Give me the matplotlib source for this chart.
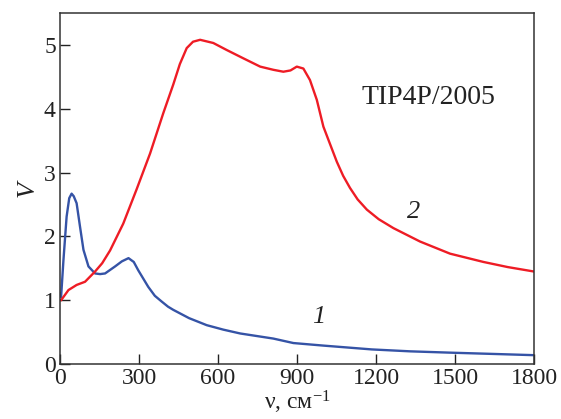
import matplotlib
matplotlib.use("Agg")
import matplotlib.pyplot as plt

# curve 1 (blue)
nu_1 = [0, 4, 13, 25, 35, 44, 52, 63, 76, 89, 108, 133, 152, 171, 209, 235, 260,
        280, 297, 335, 360, 386, 410, 430, 490, 557, 620, 684, 810, 886, 1000,
        1184, 1330, 1477, 1640, 1800]
v_1 = [1.1, 1.05, 1.63, 2.31, 2.6, 2.67, 2.63, 2.52, 2.15, 1.79, 1.53, 1.42, 1.41,
       1.42, 1.53, 1.61, 1.66, 1.6, 1.47, 1.21, 1.07, 0.98, 0.9, 0.85, 0.72, 0.61,
       0.54, 0.48, 0.40, 0.33, 0.29, 0.23, 0.2, 0.18, 0.16, 0.14]

# curve 2 (red)
nu_2 = [0, 4, 32, 63, 95, 133, 160, 190, 240, 291, 342, 392, 430, 455, 481,
        505, 532, 582, 633, 696, 760, 810, 848, 875, 899, 924, 949, 975, 1000,
        1025, 1051, 1075, 1101, 1130, 1165, 1210, 1266, 1367, 1481, 1608, 1700,
        1800]
v_2 = [1.0, 1.0, 1.16, 1.24, 1.29, 1.45, 1.58, 1.78, 2.2, 2.74, 3.3, 3.93, 4.38,
       4.7, 4.95, 5.05, 5.08, 5.03, 4.92, 4.79, 4.66, 4.61, 4.58, 4.6, 4.66,
       4.63, 4.45, 4.14, 3.72, 3.45, 3.17, 2.95, 2.76, 2.58, 2.42, 2.27, 2.13,
       1.92, 1.73, 1.60, 1.52, 1.45]

x_ticks = [0, 300, 600, 900, 1200, 1500, 1800]
y_ticks = [0, 1, 2, 3, 4, 5]

plt.rcParams["font.family"] = ["Liberation Serif", "DejaVu Serif"]
plt.rcParams["font.size"] = 17
plt.rcParams["mathtext.fontset"] = "custom"
plt.rcParams["mathtext.rm"] = "Liberation Serif"
plt.rcParams["mathtext.it"] = "Liberation Serif:italic"

fig = plt.figure(figsize=(5.61, 4.19), dpi=100)
ax = fig.add_axes([0.107, 0.131, 0.845, 0.838])

ax.plot(nu_1, v_1, color="#3553a6", lw=1.7)
ax.plot(nu_2, v_2, color="#ee1c25", lw=1.7)

ax.set_xlim(0, 1800)
ax.set_ylim(0, 5.5)
ax.set_xticks(x_ticks)
ax.set_yticks(y_ticks)
ax.tick_params(direction="in", length=7, width=1.0, colors="#222222", pad=3)
for s in ax.spines.values():
    s.set_color("#333333")
    s.set_linewidth(1.1)

ax.set_xlabel("ν, см$^{-1}$", labelpad=0, color="#222222")
ax.set_ylabel("V", style="italic", fontsize=19, labelpad=4, color="#222222")

ax.text(1145, 4.17, "TIP4P/2005", fontsize=20, va="center", ha="left", color="#222222")
ax.text(1342, 2.39, "2", style="italic", fontsize=19, va="center", ha="center", color="#222222")
ax.text(981, 0.74, "1", style="italic", fontsize=19, va="center", ha="center", color="#222222")

fig.savefig("out.png", dpi=100)
